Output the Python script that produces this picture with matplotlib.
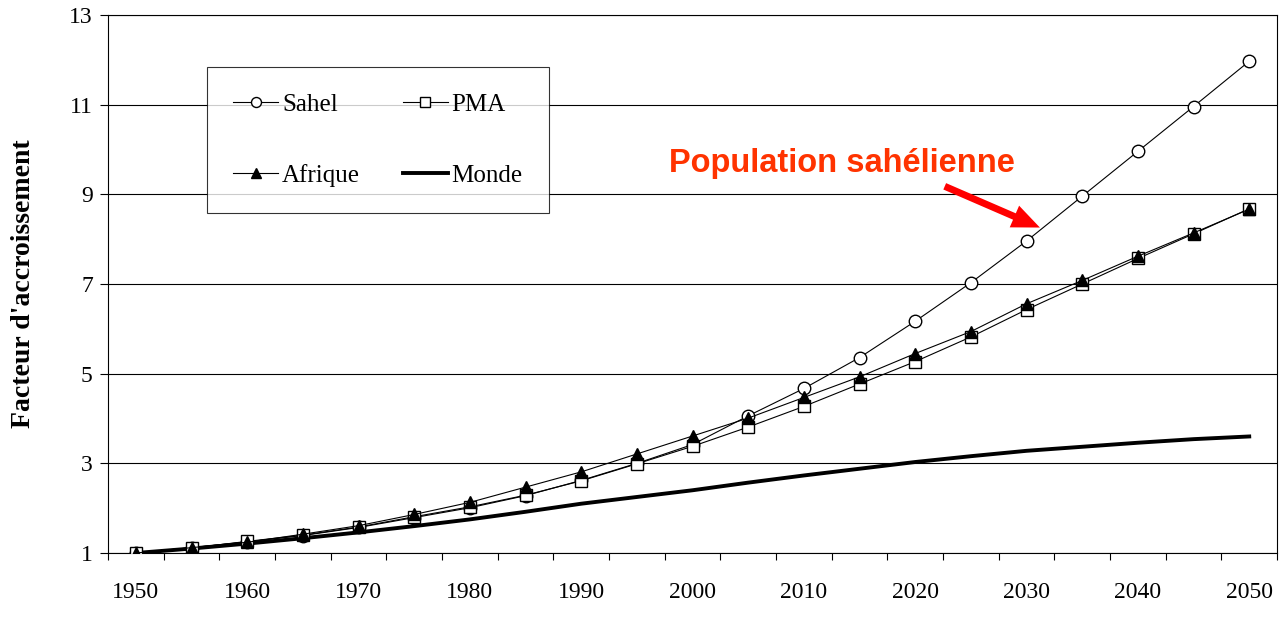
import numpy as np
import matplotlib.pyplot as plt
from matplotlib.ticker import FixedLocator

years = list(range(1950, 2055, 5))
sahel = [1.0, 1.12, 1.25, 1.39, 1.57, 1.79, 2.01, 2.28, 2.62, 3.0, 3.42,
         4.06, 4.67, 5.36, 6.17, 7.03, 7.96, 8.96, 9.96, 10.96, 11.97]
pma = [1.0, 1.11, 1.26, 1.4, 1.58, 1.81, 2.03, 2.29, 2.61, 2.99, 3.38,
       3.81, 4.27, 4.77, 5.27, 5.82, 6.43, 7.0, 7.57, 8.12, 8.68]
afrique = [1.0, 1.12, 1.24, 1.42, 1.61, 1.86, 2.13, 2.47, 2.81, 3.21, 3.61,
           4.01, 4.47, 4.93, 5.45, 5.94, 6.56, 7.08, 7.62, 8.14, 8.67]
monde = [1.0, 1.1, 1.21, 1.33, 1.46, 1.6, 1.75, 1.92, 2.1, 2.25, 2.4,
         2.57, 2.73, 2.88, 3.03, 3.16, 3.28, 3.37, 3.46, 3.54, 3.6]

plt.rcParams['font.family'] = ['Liberation Serif', 'DejaVu Serif']

fig = plt.figure(figsize=(12.88, 6.28), dpi=100)
ax = fig.add_axes([0.0839, 0.1194, 0.9076, 0.8566])

x = np.arange(len(years))
l_monde, = ax.plot(x, monde, color='black', lw=2.8, zorder=2, label='Monde')
l_sahel, = ax.plot(x, sahel, color='black', lw=0.8, marker='o', ms=9,
                   mfc='white', mec='black', mew=1.0, zorder=3, label='Sahel')
l_pma, = ax.plot(x, pma, color='black', lw=0.8, marker='s', ms=8.5,
                 mfc='white', mec='black', mew=1.0, zorder=4, label='PMA')
l_afr, = ax.plot(x, afrique, color='black', lw=0.8, marker='^', ms=9,
                 mfc='black', mec='black', zorder=5, label='Afrique')

ax.set_xlim(-0.5, len(years) - 0.5)
ax.set_ylim(1, 13)
ax.set_yticks(range(1, 14, 2))
ax.yaxis.grid(True, color='black', lw=0.8)
ax.set_axisbelow(True)

ax.set_xticks(x[::2])
ax.set_xticklabels([str(y) for y in years[::2]])
ax.xaxis.set_minor_locator(FixedLocator(np.arange(-0.5, len(years), 1.0)))
ax.tick_params(axis='x', which='major', length=0, pad=21, labelsize=17)
ax.tick_params(axis='x', which='minor', length=5, width=0.8, direction='out')
ax.tick_params(axis='y', length=6, width=0.8, direction='out', pad=5, labelsize=17)

for s in ax.spines.values():
    s.set_linewidth(0.8)
    s.set_color('black')

ax.set_ylabel("Facteur d'accroissement", fontsize=20, fontweight='bold', labelpad=24)

leg = ax.legend(handles=[l_sahel, l_afr, l_pma, l_monde], ncol=2,
                loc='upper left', bbox_to_anchor=(0.0847, 0.903),
                fontsize=18, frameon=True, fancybox=False, edgecolor='black',
                borderpad=1.05, labelspacing=1.92, handlelength=1.8,
                handletextpad=0.15, columnspacing=1.7, borderaxespad=0,
                markerscale=0.8)
leg.get_frame().set_linewidth(0.8)

ax.text(9.58, 9.51, 'Population sahélienne', color='#FF3300', fontsize=23.5,
        fontweight='bold', family=['Liberation Sans', 'DejaVu Sans'],
        ha='left', va='baseline')
ax.annotate('', xy=(16.24, 8.26), xytext=(14.53, 9.18),
            arrowprops=dict(arrowstyle='simple,head_length=1.0,head_width=0.85,tail_width=0.25',
                            mutation_scale=20, fc='#FF0000', ec='none', lw=0,
                            shrinkA=0, shrinkB=0))

fig.savefig('out.png', dpi=100)
